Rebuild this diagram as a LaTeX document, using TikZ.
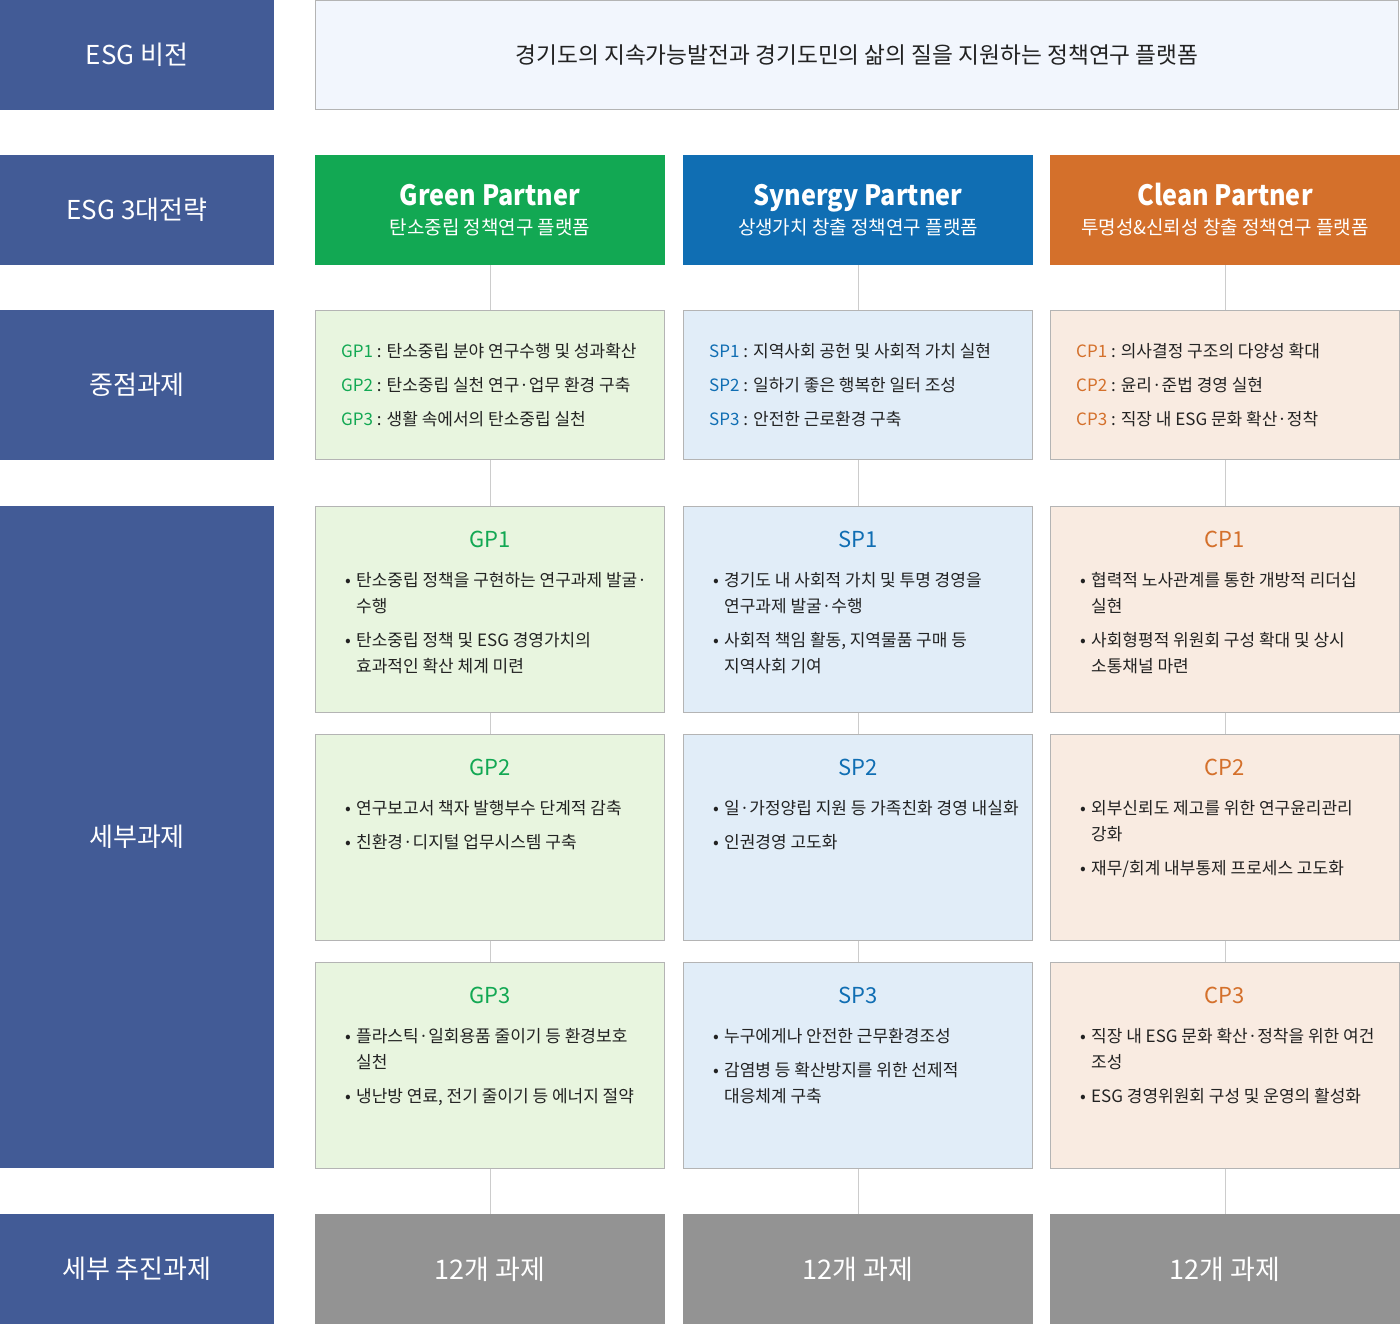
\documentclass[tikz,border=0pt]{standalone}
\usepackage{fontspec}
\setmainfont{Noto Sans CJK KR}
\newfontfamily\titlefont{Noto Sans CJK KR}[FakeStretch=0.9]
\definecolor{esgnavy}{HTML}{425B96}
\definecolor{gpgreen}{HTML}{12A853}
\definecolor{spblue}{HTML}{106EB3}
\definecolor{cporange}{HTML}{D4702B}
\definecolor{gplight}{HTML}{E8F5DF}
\definecolor{splight}{HTML}{E1EDF8}
\definecolor{cplight}{HTML}{F9EBE1}
\definecolor{visionbg}{HTML}{F2F6FD}
\definecolor{boxline}{HTML}{B4B4B4}
\definecolor{connline}{HTML}{CCCCCC}
\definecolor{totalgray}{HTML}{939393}
\definecolor{bodytext}{HTML}{222222}
\newcommand{\fsz}[2]{\fontsize{#1}{#2}\selectfont}
\newcommand{\bul}{\makebox[11pt][l]{\textbullet}}
\newcommand{\bulind}{\hspace*{11pt}}

\begin{document}
\begin{tikzpicture}[x=1pt,y=1pt,
  rowlab/.style={fill=esgnavy,text=white,inner sep=0pt,minimum width=274pt,
    minimum height=#1,font=\fsz{26}{30}},
  partner/.style={fill=#1,text=white,inner sep=0pt,minimum width=350pt,
    minimum height=110pt,align=center,font=\fsz{19}{30}},
  focus/.style={fill=#1,draw=boxline,line width=1pt,inner sep=0pt,
    minimum width=349pt,minimum height=149pt},
  detail/.style={fill=#1,draw=boxline,line width=1pt,inner sep=0pt,
    minimum width=349pt,minimum height=206pt},
  total/.style={fill=totalgray,text=white,inner sep=0pt,minimum width=350pt,
    minimum height=110pt,font=\fsz{27}{30}},
  itemtext/.style={inner sep=0pt,align=left,text=bodytext,font=\fsz{17}{#1}},
  head/.style={inner sep=0pt,text=#1,font=\fsz{22}{26}},
  conn/.style={draw=connline,line width=1pt}]
   \path[use as bounding box] (0,0) rectangle (1400,-1324);
   % row labels
   \node[rowlab=110pt] (lvision)  at (137,  -55) {ESG 비전};
   \node[rowlab=110pt] (lstrat)   at (137, -210) {ESG 3대전략};
   \node[rowlab=150pt] (lfocus)   at (137, -385) {중점과제};
   \node[rowlab=662pt] (ldetail)  at (137, -837) {세부과제};
   \node[rowlab=110pt] (ltotal)   at (137,-1269) {세부 추진과제};
   % vision
   \node[fill=visionbg,draw=boxline,line width=1pt,inner sep=0pt,minimum width=1083pt,
     minimum height=109pt,text=bodytext,font=\fsz{22.7}{26}] (vision) at (857,-55)
     {경기도의 지속가능발전과 경기도민의 삶의 질을 지원하는 정책연구 플랫폼};
   % strategies
   \node[partner=gpgreen] (gp) at ( 490,-210)
     {{\titlefont\fsz{28}{32}\bfseries Green Partner}\\[-1pt]탄소중립 정책연구 플랫폼};
   \node[partner=spblue] (sp) at ( 858,-210)
     {{\titlefont\fsz{28}{32}\bfseries Synergy Partner}\\[-1pt]상생가치 창출 정책연구 플랫폼};
   \node[partner=cporange] (cp) at (1225,-210)
     {{\titlefont\fsz{28}{32}\bfseries Clean Partner}\\[-1pt]투명성\&신뢰성 창출 정책연구 플랫폼};
   % focus tasks
   \node[focus=gplight] (gpf) at ( 490,-385) {};
   \node[focus=splight] (spf) at ( 858,-385) {};
   \node[focus=cplight] (cpf) at (1225,-385) {};
   \node[itemtext=34pt,anchor=west] (gpft) at ([xshift=26pt]gpf.west)
     {{\color{gpgreen}GP1} : 탄소중립 분야 연구수행 및 성과확산\\
      {\color{gpgreen}GP2} : 탄소중립 실천 연구·업무 환경 구축\\
      {\color{gpgreen}GP3} : 생활 속에서의 탄소중립 실천};
   \node[itemtext=34pt,anchor=west] (spft) at ([xshift=26pt]spf.west)
     {{\color{spblue}SP1} : 지역사회 공헌 및 사회적 가치 실현\\
      {\color{spblue}SP2} : 일하기 좋은 행복한 일터 조성\\
      {\color{spblue}SP3} : 안전한 근로환경 구축};
   \node[itemtext=34pt,anchor=west] (cpft) at ([xshift=26pt]cpf.west)
     {{\color{cporange}CP1} : 의사결정 구조의 다양성 확대\\
      {\color{cporange}CP2} : 윤리·준법 경영 실현\\
      {\color{cporange}CP3} : 직장 내 ESG 문화 확산·정착};
   % detail tasks
   \node[detail=gplight] (gp1) at ( 490, -609) {};
   \node[detail=gplight] (gp2) at ( 490, -837) {};
   \node[detail=gplight] (gp3) at ( 490,-1065) {};
   \node[detail=splight] (sp1) at ( 858, -609) {};
   \node[detail=splight] (sp2) at ( 858, -837) {};
   \node[detail=splight] (sp3) at ( 858,-1065) {};
   \node[detail=cplight] (cp1) at (1225, -609) {};
   \node[detail=cplight] (cp2) at (1225, -837) {};
   \node[detail=cplight] (cp3) at (1225,-1065) {};
   \node[head=gpgreen]  at ([yshift=-34pt]gp1.north) {GP1};
   \node[head=gpgreen]  at ([yshift=-34pt]gp2.north) {GP2};
   \node[head=gpgreen]  at ([yshift=-34pt]gp3.north) {GP3};
   \node[head=spblue]   at ([yshift=-34pt]sp1.north) {SP1};
   \node[head=spblue]   at ([yshift=-34pt]sp2.north) {SP2};
   \node[head=spblue]   at ([yshift=-34pt]sp3.north) {SP3};
   \node[head=cporange] at ([yshift=-34pt]cp1.north) {CP1};
   \node[head=cporange] at ([yshift=-34pt]cp2.north) {CP2};
   \node[head=cporange] at ([yshift=-34pt]cp3.north) {CP3};
   \node[itemtext=26pt,anchor=north west] at ([xshift=30pt,yshift=-67pt]gp1.north west)
     {\bul 탄소중립 정책을 구현하는 연구과제 발굴·\\ \bulind 수행\\[8pt]
      \bul 탄소중립 정책 및 ESG 경영가치의\\ \bulind 효과적인 확산 체계 미련};
   \node[itemtext=26pt,anchor=north west] at ([xshift=30pt,yshift=-67pt]gp2.north west)
     {\bul 연구보고서 책자 발행부수 단계적 감축\\[8pt]
      \bul 친환경·디지털 업무시스템 구축};
   \node[itemtext=26pt,anchor=north west] at ([xshift=30pt,yshift=-67pt]gp3.north west)
     {\bul 플라스틱·일회용품 줄이기 등 환경보호\\ \bulind 실천\\[8pt]
      \bul 냉난방 연료, 전기 줄이기 등 에너지 절약};
   \node[itemtext=26pt,anchor=north west] at ([xshift=30pt,yshift=-67pt]sp1.north west)
     {\bul 경기도 내 사회적 가치 및 투명 경영을\\ \bulind 연구과제 발굴·수행\\[8pt]
      \bul 사회적 책임 활동, 지역물품 구매 등\\ \bulind 지역사회 기여};
   \node[itemtext=26pt,anchor=north west] at ([xshift=30pt,yshift=-67pt]sp2.north west)
     {\bul 일·가정양립 지원 등 가족친화 경영 내실화\\[8pt]
      \bul 인권경영 고도화};
   \node[itemtext=26pt,anchor=north west] at ([xshift=30pt,yshift=-67pt]sp3.north west)
     {\bul 누구에게나 안전한 근무환경조성\\[8pt]
      \bul 감염병 등 확산방지를 위한 선제적\\ \bulind 대응체계 구축};
   \node[itemtext=26pt,anchor=north west] at ([xshift=30pt,yshift=-67pt]cp1.north west)
     {\bul 협력적 노사관계를 통한 개방적 리더십\\ \bulind 실현\\[8pt]
      \bul 사회형평적 위원회 구성 확대 및 상시\\ \bulind 소통채널 마련};
   \node[itemtext=26pt,anchor=north west] at ([xshift=30pt,yshift=-67pt]cp2.north west)
     {\bul 외부신뢰도 제고를 위한 연구윤리관리\\ \bulind 강화\\[8pt]
      \bul 재무/회계 내부통제 프로세스 고도화};
   \node[itemtext=26pt,anchor=north west] at ([xshift=30pt,yshift=-67pt]cp3.north west)
     {\bul 직장 내 ESG 문화 확산·정착을 위한 여건\\ \bulind 조성\\[8pt]
      \bul ESG 경영위원회 구성 및 운영의 활성화};
   % totals
   \node[total] (gpt) at ( 490,-1269) {12개 과제};
   \node[total] (spt) at ( 858,-1269) {12개 과제};
   \node[total] (cpt) at (1225,-1269) {12개 과제};
   % connectors
   \draw[conn] (gp)  -- (gpf);  \draw[conn] (sp)  -- (spf);  \draw[conn] (cp)  -- (cpf);
   \draw[conn] (gpf) -- (gp1);  \draw[conn] (spf) -- (sp1);  \draw[conn] (cpf) -- (cp1);
   \draw[conn] (gp1) -- (gp2);  \draw[conn] (sp1) -- (sp2);  \draw[conn] (cp1) -- (cp2);
   \draw[conn] (gp2) -- (gp3);  \draw[conn] (sp2) -- (sp3);  \draw[conn] (cp2) -- (cp3);
   \draw[conn] (gp3) -- (gpt);  \draw[conn] (sp3) -- (spt);  \draw[conn] (cp3) -- (cpt);
\end{tikzpicture}
\end{document}
